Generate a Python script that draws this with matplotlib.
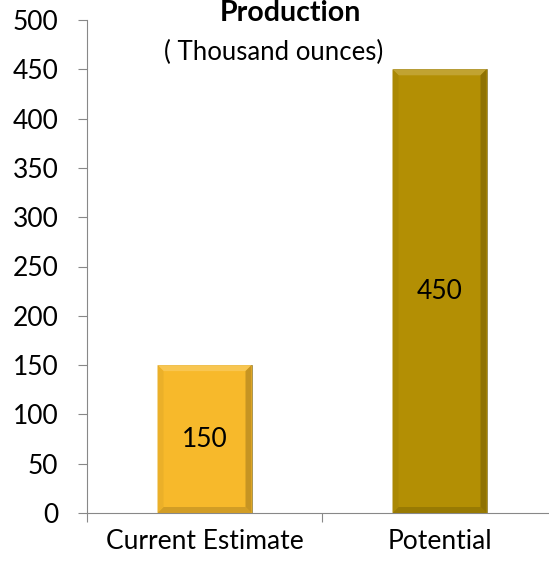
import matplotlib
matplotlib.use("Agg")
import matplotlib.pyplot as plt
from matplotlib.patches import Polygon
import matplotlib.colors as mcolors
import numpy as np

categories = ["Current Estimate", "Potential"]
values = [150, 450]
colors = ["#F7B92B", "#B38F04"]
yticks = [0, 50, 100, 150, 200, 250, 300, 350, 400, 450, 500]

plt.rcParams['font.family'] = ['Lato', 'DejaVu Sans']

W, H = 549, 563
fig = plt.figure(figsize=(W/100, H/100), dpi=100)
left = 87/W
right = 557/W
bottom = (H-513)/H
top = (H-20)/H
ax = fig.add_axes([left, bottom, right-left, top-bottom])

x = list(range(len(categories)))
bars = ax.bar(x, values, width=0.4, color=colors, edgecolor="#8a7a3a", linewidth=0.5, zorder=3)
ax.set_xlim(-0.5, len(categories)-0.5)
ax.set_ylim(0, 500)
ax.set_yticks(yticks)
ax.set_xticks([-0.5, 0.5, 1.5], minor=False)
ax.set_xticklabels([])
ax.set_xticks(x, minor=True)
ax.set_xticklabels(categories, minor=True, fontsize=19)
ax.tick_params(axis='x', which='minor', length=0, pad=11.5)
ax.tick_params(axis='x', which='major', length=6.5, color="#888888", direction='out')
ax.tick_params(axis='y', length=6.5, color="#888888", direction='out', labelsize=19, pad=14)

for s in ['top', 'right']:
    ax.spines[s].set_visible(False)
for s in ['left', 'bottom']:
    ax.spines[s].set_color("#888888")

fig.canvas.draw()

def shade(c, f):
    r = np.array(mcolors.to_rgb(c))
    if f > 0:
        return tuple(r + (1 - r) * f)
    return tuple(r * (1 + f))

for b, c in zip(bars, colors):
    x0, y0 = b.get_x(), b.get_y()
    w, h = b.get_width(), b.get_height()
    p0 = ax.transData.transform((x0, y0)); p1 = ax.transData.transform((x0 + w, y0 + h))
    d = 6
    X0, Y0 = p0; X1, Y1 = p1
    inv = ax.transData.inverted()
    def pts(lst):
        return inv.transform(np.array(lst))
    ax.add_patch(Polygon(pts([(X0, Y1), (X1, Y1), (X1-d, Y1-d), (X0+d, Y1-d)]), closed=True,
                         facecolor=shade(c, 0.18), edgecolor='none', zorder=4))
    ax.add_patch(Polygon(pts([(X0, Y0), (X1, Y0), (X1-d, Y0+d), (X0+d, Y0+d)]), closed=True,
                         facecolor=shade(c, -0.15), edgecolor='none', zorder=4))
    ax.add_patch(Polygon(pts([(X0, Y0), (X0, Y1), (X0+d, Y1-d), (X0+d, Y0+d)]), closed=True,
                         facecolor=shade(c, -0.05), edgecolor='none', zorder=4))
    ax.add_patch(Polygon(pts([(X1, Y0), (X1, Y1), (X1-d, Y1-d), (X1-d, Y0+d)]), closed=True,
                         facecolor=shade(c, -0.2), edgecolor='none', zorder=4))
    ax.text(x0 + w/2, h/2, f"{int(h)}", ha='center', va='center', fontsize=19, zorder=5)

fig.text(290/W, 1 - 13/H, "Production", ha='center', va='center', fontsize=20.5, fontweight='bold')
fig.text(274/W, 1 - 52/H, "( Thousand ounces)", ha='center', va='center', fontsize=18.5)

fig.savefig("out.png", dpi=100)
